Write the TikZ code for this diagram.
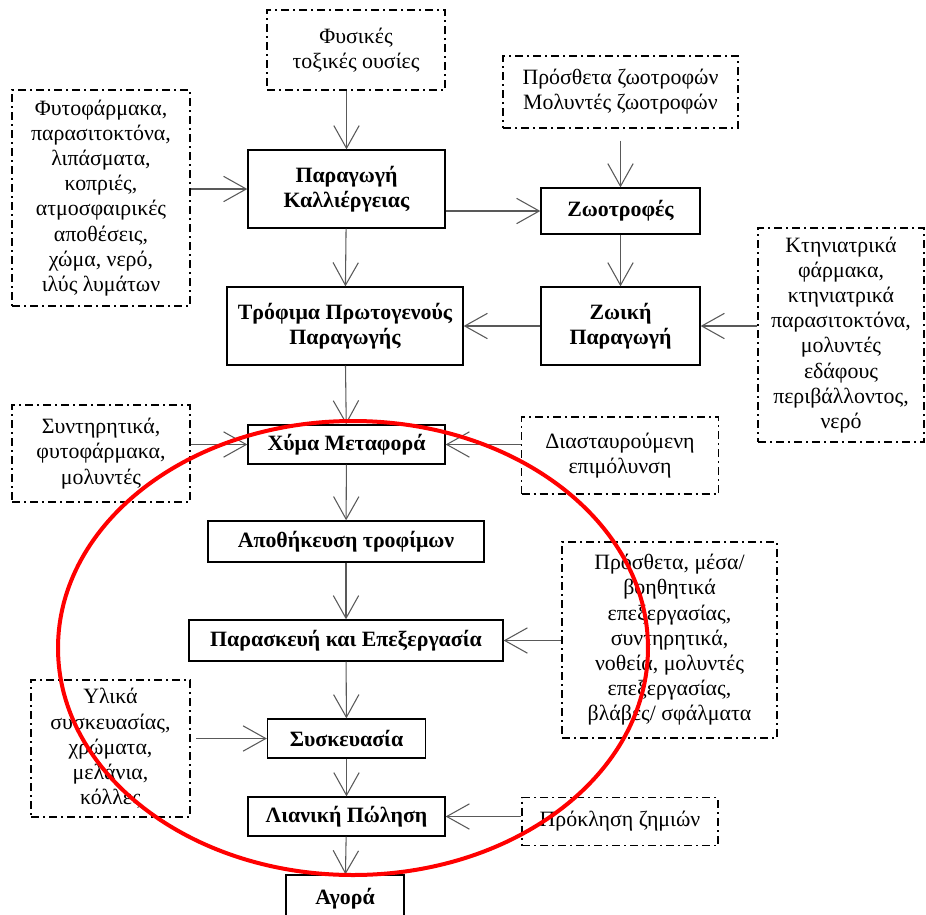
\documentclass[tikz,border=0pt]{standalone}
\usepackage{fontspec}
\setmainfont{Liberation Serif}
\usetikzlibrary{arrows.meta}

\begin{document}
\begin{tikzpicture}[x=0.75pt,y=-0.75pt,font=\fontsize{16.4}{18.9}\selectfont,
 >={Straight Barb[length=17pt,width=19pt]},
 stage/.style={draw,line width=1pt,align=center,inner sep=2pt,font=\fontsize{16.4}{18.9}\selectfont\bfseries},
 source/.style={draw,line width=1pt,dash pattern=on 6pt off 3pt on 1.5pt off 3pt,align=center,inner sep=2pt},
 flow/.style={->,draw=black!65,line width=0.8pt}]
\useasboundingbox (0,0) rectangle (926,915);
% main chain
\node[stage,minimum width=147.75pt,minimum height=58.5pt] (crop) at (346.5,189) {Παραγωγή\\Καλλιέργειας};
\node[stage,minimum width=177pt,minimum height=58.5pt] (primary) at (345,326) {Τρόφιμα Πρωτογενούς\\Παραγωγής};
\node[stage,minimum width=119.25pt,minimum height=34.5pt] (feed) at (620.5,211) {Ζωοτροφές};
\node[stage,minimum width=119.25pt,minimum height=58.5pt] (animal) at (620.5,326) {Ζωική\\Παραγωγή};
\node[stage,minimum width=147.75pt,minimum height=29.25pt] (bulk) at (346.5,444.5) {Χύμα Μεταφορά};
\node[stage,minimum width=207pt,minimum height=30.75pt] (storage) at (346,541.5) {Αποθήκευση τροφίμων};
\node[stage,minimum width=235.5pt,minimum height=30.75pt] (prep) at (346,640.5) {Παρασκευή και Επεξεργασία};
\node[stage,minimum width=118.5pt,minimum height=29.25pt] (pack) at (346.5,738.5) {Συσκευασία};
\node[stage,minimum width=147.75pt,minimum height=29.25pt] (retail) at (346.5,816.5) {Λιανική Πώληση};
\node[stage,minimum width=88.5pt,minimum height=36pt] (market) at (345,899) {Αγορά};
% hazard sources
\node[source,minimum width=133.5pt,minimum height=60pt] (toxins) at (356,50) {Φυσικές\\τοξικές ουσίες};
\node[source,minimum width=133.5pt,minimum height=162pt] (agro) at (101,198) {Φυτοφάρμακα,\\παρασιτοκτόνα,\\λιπάσματα,\\κοπριές,\\ατμοσφαιρικές\\αποθέσεις,\\χώμα, νερό,\\ιλύς λυμάτων};
\node[source,minimum width=176.25pt,minimum height=54pt] (feedadd) at (620.5,92) {Πρόσθετα ζωοτροφών\\Μολυντές ζωοτροφών};
\node[source,minimum width=124.5pt,minimum height=160.5pt] (vet) at (841,335) {Κτηνιατρικά\\φάρμακα,\\κτηνιατρικά\\παρασιτοκτόνα,\\μολυντές\\εδάφους\\περιβάλλοντος,\\νερό};
\node[source,minimum width=133.5pt,minimum height=72.75pt] (preserv) at (101,453.5) {Συντηρητικά,\\φυτοφάρμακα,\\μολυντές};
\node[source,minimum width=147.75pt,minimum height=57.75pt] (cross) at (620,455.5) {Διασταυρούμενη\\επιμόλυνση};
\node[source,minimum width=161.25pt,minimum height=147pt] (procadd) at (669.5,640) {Πρόσθετα, μέσα/\\βοηθητικά\\επεξεργασίας,\\συντηρητικά,\\νοθεία, μολυντές\\επεξεργασίας,\\βλάβες/ σφάλματα};
\node[source,minimum width=119.25pt,minimum height=102.75pt] (packmat) at (110.5,748.5) {Υλικά\\συσκευασίας,\\χρώματα,\\μελάνια,\\κόλλες};
\node[source,minimum width=147pt,minimum height=36pt] (damage) at (620,821.5) {Πρόκληση ζημιών};
% connectors
\draw[flow] (toxins.south -| crop.north)--(crop.north);
\draw[flow] (agro.east |- crop)--(crop.west);
\draw[flow] (crop.east |- feed)--(feed.west);
\draw[flow,shorten <=9pt] (feedadd.south)--(feed.north);
\draw[flow] (feed)--(animal);
\draw[flow] (crop)--(primary);
\draw[flow] (animal)--(primary);
\draw[flow] (vet.west |- animal)--(animal.east);
\draw[flow] (primary)--(bulk);
\draw[flow] (preserv.east |- bulk)--(bulk.west);
\draw[flow] (cross.west |- bulk)--(bulk.east);
\draw[flow] (bulk)--(storage);
\draw[flow] (storage)--(prep);
\draw[flow] (procadd.west |- prep)--(prep.east);
\draw[flow] (prep)--(pack);
\draw[flow,shorten <=4pt] (packmat.east |- pack)--(pack.west);
\draw[flow] (pack)--(retail);
\draw[flow] (damage.west |- retail)--(retail.east);
\draw[flow] (retail)--(market);
% highlight
\draw[red,line width=3pt] (353,648) ellipse [x radius=295,y radius=227];
\end{tikzpicture}
\end{document}
